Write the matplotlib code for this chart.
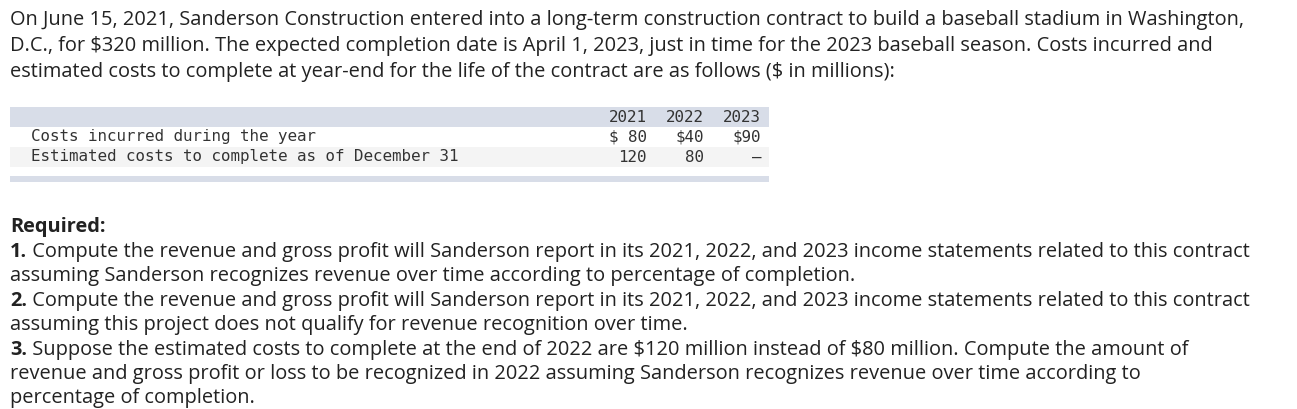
import matplotlib.pyplot as plt
from matplotlib.patches import Rectangle

plt.rcParams["text.parse_math"] = False

intro = [
    "On June 15, 2021, Sanderson Construction entered into a long-term construction contract to build a baseball stadium in Washington,",
    "D.C., for $320 million. The expected completion date is April 1, 2023, just in time for the 2023 baseball season. Costs incurred and",
    "estimated costs to complete at year-end for the life of the contract are as follows ($ in millions):",
]
years = ["2021", "2022", "2023"]
row_labels = ["Costs incurred during the year", "Estimated costs to complete as of December 31"]
row_values = [["$ 80", "$40", "$90"], ["120", "80", "\u2013"]]
required = [
    ("1.", " Compute the revenue and gross profit will Sanderson report in its 2021, 2022, and 2023 income statements related to this contract"),
    (None, "assuming Sanderson recognizes revenue over time according to percentage of completion."),
    ("2.", " Compute the revenue and gross profit will Sanderson report in its 2021, 2022, and 2023 income statements related to this contract"),
    (None, "assuming this project does not qualify for revenue recognition over time."),
    ("3.", " Suppose the estimated costs to complete at the end of 2022 are $120 million instead of $80 million. Compute the amount of"),
    (None, "revenue and gross profit or loss to be recognized in 2022 assuming Sanderson recognizes revenue over time according to"),
    (None, "percentage of completion."),
]

W, H = 1297, 409
fig = plt.figure(figsize=(W / 100, H / 100), dpi=100)
ax = fig.add_axes([0, 0, 1, 1])
ax.set_xlim(0, W)
ax.set_ylim(H, 0)
ax.axis("off")

sans = "Open Sans"
fs = 14.4
col = "#222222"

for i, line in enumerate(intro):
    ax.text(10, 20 + i * 26, line, fontsize=fs, family=sans, color=col, va="center")

# table
ax.add_patch(Rectangle((10, 107), 759, 20, color="#d8dde8", lw=0))
ax.add_patch(Rectangle((10, 147), 759, 20, color="#f4f4f4", lw=0))
ax.add_patch(Rectangle((10, 176), 759, 6, color="#d8dde8", lw=0))
mono = "DejaVu Sans Mono"
mfs = 11.4
col_x = [647, 704, 761]
for x, y in zip(col_x, years):
    ax.text(x, 118, y, fontsize=mfs, family=mono, color="#333333", ha="right", va="center")
for r, (lab, vals) in enumerate(zip(row_labels, row_values)):
    yy = 137 + r * 20
    ax.text(31, yy, lab, fontsize=mfs, family=mono, color="#333333", va="center")
    for x, v in zip(col_x, vals):
        ax.text(x, yy, v, fontsize=mfs, family=mono, color="#333333", ha="right", va="center")

ax.text(10, 227, "Required:", fontsize=fs, family=sans, color=col, va="center", weight="bold")
for i, (num, line) in enumerate(required):
    y = 252 + i * 24.4
    if num:
        t = ax.text(10, y, num, fontsize=fs, family=sans, color=col, va="center", weight="bold")
        fig.canvas.draw()
        bb = t.get_window_extent()
        ax.text(bb.x1, y, line, fontsize=fs, family=sans, color=col, va="center")
    else:
        ax.text(10, y, line, fontsize=fs, family=sans, color=col, va="center")

fig.savefig("out.png", dpi=100)
